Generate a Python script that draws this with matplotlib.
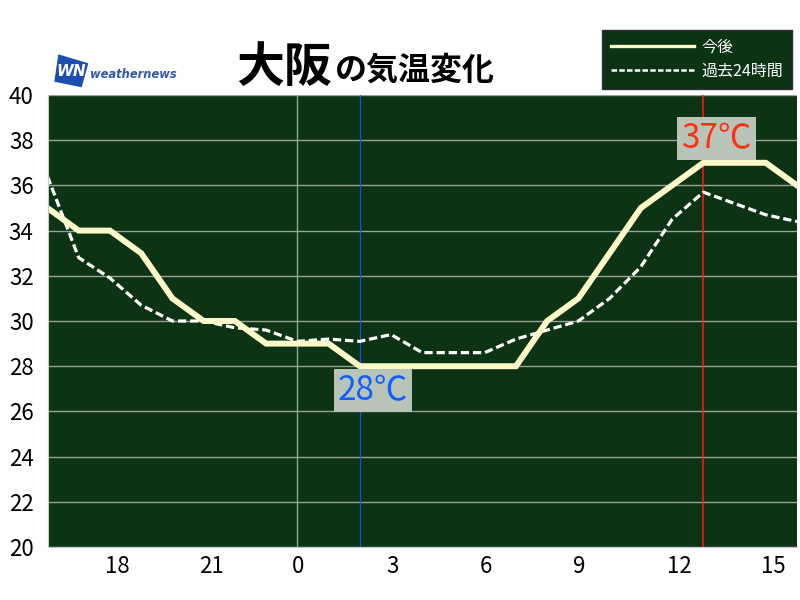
import matplotlib
matplotlib.use("Agg")
import matplotlib.pyplot as plt
import matplotlib.transforms as mtransforms
from matplotlib.lines import Line2D
from matplotlib.patches import Polygon

plt.rcParams['font.family'] = ['Noto Sans CJK JP', 'DejaVu Sans']

# hours from 16:00 today to 16:00 tomorrow (24 = midnight)
hours = list(range(16, 41))
forecast = [35, 34, 34, 33, 31, 30, 30, 29, 29, 29, 28, 28, 28,
            28, 28, 28, 30, 31, 33, 35, 36, 37, 37, 37, 36]
past24 = [36.4, 32.8, 31.9, 30.7, 30.0, 30.0, 29.7, 29.6, 29.1, 29.2, 29.1, 29.4, 28.6,
          28.6, 28.6, 29.2, 29.6, 30.0, 31.0, 32.4, 34.5, 35.7, 35.2, 34.7, 34.4]
tick_hours = [18, 21, 24, 27, 30, 33, 36, 39]
tick_labels = ['18', '21', '0', '3', '6', '9', '12', '15']
min_hour, min_label = 26, '28℃'
max_hour, max_label = 37, '37℃'

BG = '#0b3314'
GRID = '#98a498'

fig = plt.figure(figsize=(8, 6), dpi=100)
ax = fig.add_axes([47.5 / 800, 53 / 600, 749.5 / 800, 452 / 600])
ax.set_facecolor(BG)
ax.set_xlim(16, 40)
ax.set_ylim(20, 40)

ax.set_yticks(range(20, 41, 2))
ax.set_xticks(tick_hours)
ax.set_xticklabels(tick_labels)
ax.tick_params(length=0, labelsize=16)
ax.tick_params(axis='y', pad=10)
ax.tick_params(axis='x', pad=6)
# x labels are left aligned just before the tick
shift = mtransforms.ScaledTranslation(-5 / 100, 0, fig.dpi_scale_trans)
for lab in ax.get_xticklabels():
    lab.set_horizontalalignment('left')
    lab.set_transform(lab.get_transform() + shift)
ax.yaxis.grid(True, color=GRID, lw=1)
ax.axvline(24, color=GRID, lw=1)
for s in ax.spines.values():
    s.set_visible(False)
ax.spines['left'].set_visible(True)
ax.spines['bottom'].set_visible(True)
ax.spines['left'].set_color('#c8c8c8')
ax.spines['bottom'].set_color('#c8c8c8')

# min / max markers
ax.axvline(min_hour, color='#1a50f0', lw=0.9)
ax.axvline(max_hour, color='#ff1a1a', lw=1.1)

ax.plot(hours, past24, color='white', lw=2.3, dashes=(2.6, 1.2))
ax.plot(hours, forecast, color='#fcf9c8', lw=4.3, solid_joinstyle='miter')

box = dict(boxstyle='square,pad=0.12', facecolor='#b9c4b9', edgecolor='none')
ax.text(min_hour + 0.42, min(forecast) - 0.3, min_label, color='#1060ff', fontsize=24,
        ha='center', va='top', bbox=box)
ax.text(max_hour + 0.42, max(forecast) + 0.3, max_label, color='#ff3010', fontsize=24,
        ha='center', va='bottom', bbox=box)

# legend
h1 = Line2D([], [], color='#fcf9c8', lw=2.4)
h2 = Line2D([], [], color='white', lw=1.8, dashes=(2.2, 0.9))
leg = fig.legend([h1, h2], ['今後', '過去24時間'], loc='upper right',
                 bbox_to_anchor=(792 / 800, 1 - 30 / 600), fontsize=11.5,
                 handlelength=5.2, facecolor=BG, edgecolor='#303030',
                 framealpha=1, fancybox=False, labelspacing=0.45,
                 borderpad=0.55, handletextpad=0.45, borderaxespad=0)
for t in leg.get_texts():
    t.set_color('white')

# title
fig.text(236 / 800, 1 - 82 / 600, '大阪', fontsize=34.5, fontweight='bold',
         ha='left', va='baseline')
fig.text(335 / 800, 1 - 80 / 600, 'の気温変化', fontsize=23, fontweight='bold',
         ha='left', va='baseline')

# logo
logo = [(58.3, 54.3), (88.3, 63.3), (81.7, 87.3), (54.3, 81.7)]
fig.patches.append(Polygon([(x / 800, 1 - y / 600) for x, y in logo], closed=True,
                           transform=fig.transFigure, facecolor='#1a4fb0',
                           edgecolor='none'))
fig.text(71 / 800, 1 - 72 / 600, 'WN', color='white', fontsize=11, fontweight='bold',
         style='italic', ha='center', va='center', family='DejaVu Sans')
fig.text(90 / 800, 1 - 75 / 600, 'weathernews', color='#3358a8', fontsize=8.3,
         fontweight='bold', style='italic', ha='left', va='center', family='DejaVu Sans')

fig.savefig('out.png', dpi=100)
